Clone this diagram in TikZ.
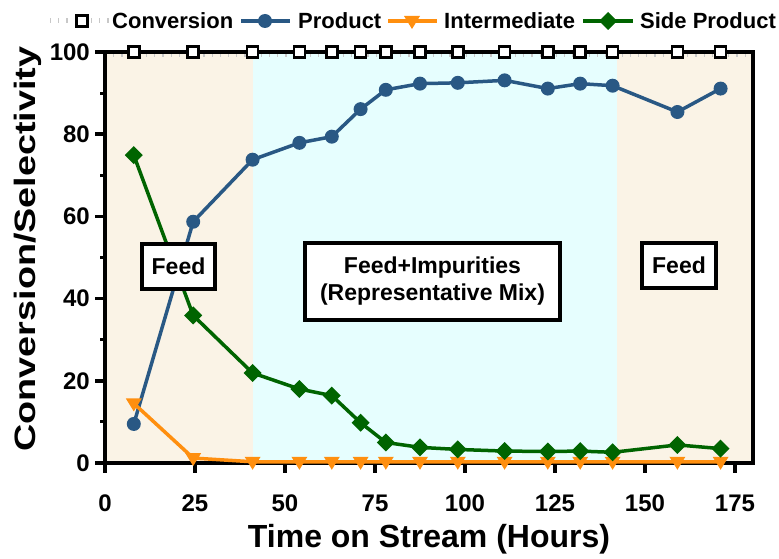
\documentclass[tikz,border=0pt]{standalone}
\usepackage{fontspec}
\setmainfont{Liberation Sans}
\definecolor{prodc}{RGB}{41,88,132}
\definecolor{interc}{RGB}{255,143,15}
\definecolor{sidec}{RGB}{0,100,0}
\definecolor{feedbg}{RGB}{250,243,230}
\definecolor{mixbg}{RGB}{230,254,254}
\definecolor{convc}{RGB}{200,200,200}

\tikzset{
  ticklabel/.style={font=\fontsize{24}{28}\selectfont\bfseries, inner sep=0pt},
  legtext/.style={font=\fontsize{22}{26}\selectfont\bfseries, anchor=west, inner sep=0pt},
  regionbox/.style={draw=black, line width=3.5pt, fill=white, align=center,
    font=\fontsize{23}{27}\selectfont\bfseries, inner sep=0pt},
  series/.style={line width=3.5pt, line join=round},
  convline/.style={convc, line width=5pt, dash pattern=on 1.2pt off 7pt},
}
% marker shapes (sizes in pt, independent of the axis scale)
\newcommand{\prodmark}[1]{\fill[prodc] #1 circle[radius=7pt];}
\newcommand{\sidemark}[1]{\fill[sidec] #1 ++(0,9pt) -- ++(9pt,-9pt) -- ++(-9pt,-9pt) -- ++(-9pt,9pt) -- cycle;}
\newcommand{\intermark}[1]{\fill[interc] #1 ++(-8pt,5pt) -- ++(16pt,0) -- ++(-8pt,-13pt) -- cycle;}
\newcommand{\convmark}[1]{\draw[black, fill=white, line width=2.5pt] #1 ++(-5.5pt,-5.5pt) rectangle ++(11pt,11pt);}

\begin{document}
\begin{tikzpicture}[x=1pt,y=1pt]
\useasboundingbox (0,0) rectangle (779,558);

% ---------------- legend ----------------
\draw[convline] (50,537) -- (112,537);
\convmark{(82,537)}
\node[legtext] (lconv) at (112,537) {Conversion};
\draw[prodc, series] (241,537) -- (290,537);
\prodmark{(265,537)}
\node[legtext] (lprod) at (298,537) {Product};
\draw[interc, series] (388,537) -- (437,537);
\intermark{(412,537)}
\node[legtext] (linter) at (444,537) {Intermediate};
\draw[sidec, series] (583,537) -- (633,537);
\sidemark{(608,537)}
\node[legtext] (lside) at (640,537) {Side Product};

% ---------------- axis titles ----------------
\node[font=\fontsize{32}{36}\selectfont\bfseries, inner sep=0pt] (xtitle) at (429,19) {Time on Stream (Hours)};
\node[font=\fontsize{29.5}{34}\selectfont\bfseries, inner sep=0pt, rotate=90] (ytitle) at (28,309)
  {\scalebox{1.28}[1]{Conversion/Selectivity}};

% ---------------- plot area ----------------
\begin{scope}[shift={(105,95)}, x=3.6pt, y=4.11pt]
  % operating regimes
  \fill[feedbg] (0,0) rectangle (41.2,100);
  \fill[mixbg] (41.2,0) rectangle (142.3,100);
  \fill[feedbg] (142.3,0) rectangle (180,100);

  % conversion trace (at 100 %)
  \draw[convline] (0,99.4) -- (180,99.4);

  % frame and ticks
  \draw[line width=4pt, line join=miter] (0,0) rectangle (180,100);
  \foreach \t in {0,25,...,175} {
    \draw[line width=3.5pt] (\t,0) -- ++(0,-10pt);
    \node[ticklabel] at (\t,0) [yshift=-40pt] {\t};
  }
  \foreach \v in {0,20,...,100} {
    \draw[line width=3.5pt] (0,\v) -- ++(-10pt,0);
    \node[ticklabel, anchor=east] at (0,\v) [xshift=-15pt] {\v};
  }
  \foreach \v in {10,30,...,90}
    \draw[line width=3pt] (0,\v) -- ++(-5pt,0);

  % product
  \draw[prodc, series] plot coordinates {(8,9.5) (24.5,58.7) (41,73.8) (54,77.9) (63,79.4)
    (71,86.1) (78,90.8) (87.5,92.3) (98,92.5) (111,93.1) (123,91.1) (132,92.3) (141,91.8)
    (159,85.4) (171,91.1)};
  \foreach \p in {(8,9.5),(24.5,58.7),(41,73.8),(54,77.9),(63,79.4),(71,86.1),(78,90.8),
    (87.5,92.3),(98,92.5),(111,93.1),(123,91.1),(132,92.3),(141,91.8),(159,85.4),(171,91.1)}
    {\prodmark{\p}}

  % intermediate
  \draw[interc, series] plot coordinates {(8,14.5) (24.5,1.2) (41,0.3) (54,0.3) (63,0.3)
    (71,0.3) (78,0.3) (87.5,0.3) (98,0.3) (111,0.3) (123,0.3) (132,0.3) (141,0.3)
    (159,0.3) (171,0.3)};
  \foreach \p in {(8,14.5),(24.5,1.2),(41,0.3),(54,0.3),(63,0.3),(71,0.3),(78,0.3),
    (87.5,0.3),(98,0.3),(111,0.3),(123,0.3),(132,0.3),(141,0.3),(159,0.3),(171,0.3)}
    {\intermark{\p}}

  % side product
  \draw[sidec, series] plot coordinates {(8,74.9) (24.5,35.9) (41,21.9) (54,18) (63,16.4)
    (71,9.8) (78,5) (87.5,3.8) (98,3.3) (111,2.9) (123,2.8) (132,2.9) (141,2.6)
    (159,4.4) (171,3.5)};
  \foreach \p in {(8,74.9),(24.5,35.9),(41,21.9),(54,18),(63,16.4),(71,9.8),(78,5),
    (87.5,3.8),(98,3.3),(111,2.9),(123,2.8),(132,2.9),(141,2.6),(159,4.4),(171,3.5)}
    {\sidemark{\p}}

  % conversion markers
  \foreach \x in {8,24.5,41,54,63,71,78,87.5,98,111,123,132,141,159,171}
    {\convmark{(\x,100)}}
\end{scope}

% ---------------- regime labels ----------------
\node[regionbox, minimum width=73pt, minimum height=45pt] (feedA) at (178.5,291.5) {Feed};
\node[regionbox, minimum width=255pt, minimum height=77pt] (mix) at (432.5,276.5)
  {Feed+Impurities\\(Representative Mix)};
\node[regionbox, minimum width=74pt, minimum height=45pt] (feedB) at (679,292.5) {Feed};
\end{tikzpicture}
\end{document}
